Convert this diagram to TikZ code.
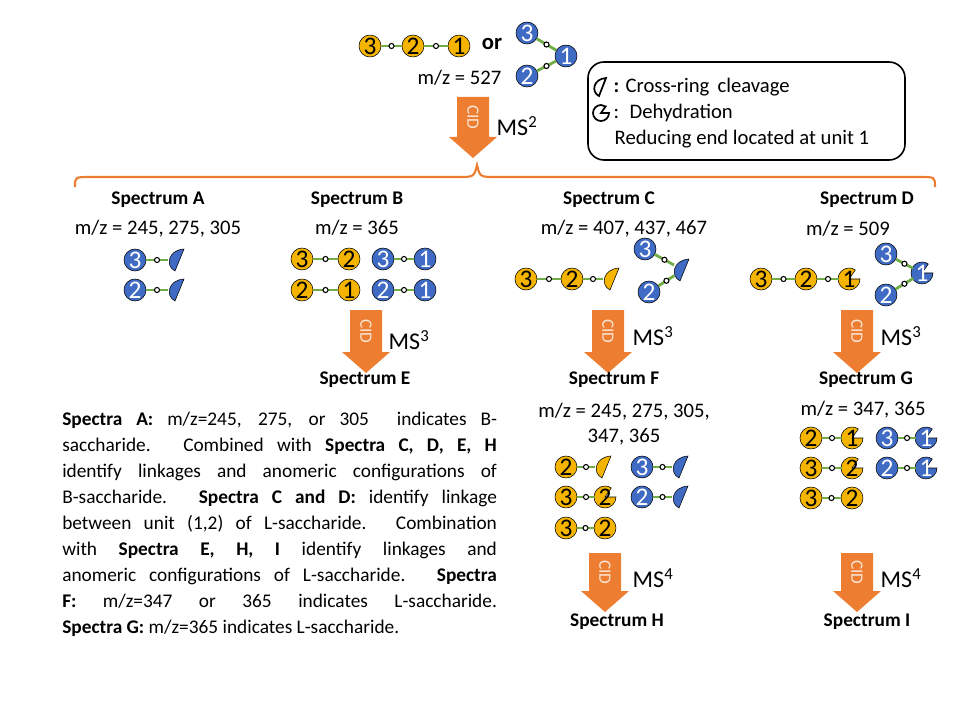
\documentclass[tikz,border=0pt]{standalone}
\usepackage{fontspec}
\setmainfont{Carlito}
\begin{document}
\begin{tikzpicture}[x=0.75pt,y=-0.75pt,
 yu/.style={circle,draw=black,thin,fill=yc,inner sep=0pt,minimum size=16.5pt,font=\fontsize{19}{19}\selectfont},
 bu/.style={circle,draw=black,thin,fill=bc,text=white,inner sep=0pt,minimum size=16.5pt,font=\fontsize{19}{19}\selectfont},
 ghost/.style={circle,inner sep=0pt,minimum size=15pt},
 link/.style={draw=lg,line width=2.1pt},
 dot/.style={circle,draw=black,fill=white,inner sep=0pt,minimum size=3.8pt,line width=0.8pt},
 ttl/.style={font=\fontsize{14.5}{16}\selectfont\bfseries},
 mz/.style={font=\fontsize{15.5}{17}\selectfont},
 ms/.style={font=\fontsize{18}{20}\selectfont,anchor=west}]
\definecolor{yc}{HTML}{F4B400}
\definecolor{bc}{HTML}{3F6BC4}
\definecolor{lg}{HTML}{70AD47}
\definecolor{oc}{HTML}{ED7D31}
\useasboundingbox (0,0) rectangle (960,720);
\newcommand\Y[3]{\node[yu] (#1) at (#2) {#3};}
\newcommand\B[3]{\node[bu] (#1) at (#2) {#3};}
\newcommand\HM[3]{\node[ghost] (#1) at (#2) {};
 \begin{scope}[shift={(#2)}]\filldraw[fill=#3,draw=black,thin] (6,-11) .. controls (-10,-10) and (-13,6) .. (-3,11) -- cycle;\end{scope}}
\newcommand\PMl[5]{\node[ghost] (#1) at (#2) {};
 \begin{scope}[shift={(#2)}]\filldraw[fill=#3,draw=black,thin] (0,0) -- (0:11) arc[start angle=0,end angle=305,radius=11] -- cycle;\end{scope}
 \node[ghost,text=#4,font=\fontsize{19}{19}\selectfont] at (#2) {#5};}
\newcommand\PM[4]{\PMl{#1}{#2}{#3}{#4}{1}}
\newcommand\lk[2]{\draw[link] (#1) -- (#2) node[dot,midway]{};}
\newcommand\cid[4]{% name, x, ytop, ybottom
 \fill[oc] (#2-16,#3) -- (#2+16,#3) -- (#2+16,#4-21) -- (#2+24,#4-21) -- (#2,#4) -- (#2-24,#4-21) -- (#2-16,#4-21) -- cycle;
 \node[coordinate] (#1) at (#2,#3) {};
 \node[text=white!80!oc,rotate=-90,font=\fontsize{13}{13}\selectfont] at (#2,#3/2+#4/2-10) {CID};}
% top
\Y{t3}{370,46}{3}\Y{t2}{413,46}{2}\Y{t1}{459,46}{1}
\lk{t3}{t2}\lk{t2}{t1}
\node[font=\fontsize{17}{18}\selectfont\bfseries] (or) at (492,44) {or};
\B{u3}{527,33}{3}\B{u1}{566,56}{1}\B{u2}{527,76}{2}
\lk{u3}{u1}\lk{u2}{u1}
\node[mz,anchor=east] (mz0) at (506,78) {m/z = 527};
\cid{a1}{473}{97}{158}
\node[ms] at (492,126) {MS\textsuperscript{2}};
% legend
\draw[rounded corners=12,line width=1.2] (588,62) rectangle (905,160);
\begin{scope}[shift={(601,87)}]\draw[line width=1.3] (5,-9) .. controls (-8,-8) and (-10,5) .. (-2,9) -- cycle;\end{scope}
\begin{scope}[shift={(601,113)}]\draw[line width=1.3] (0,0) -- (0:8) arc[start angle=0,end angle=305,radius=8] -- cycle;\end{scope}
\node[mz,anchor=west] (l1) at (609,87) {\textbf{:} Cross-ring\, cleavage};
\node[mz,anchor=west] (l2) at (609,113) {:\enspace Dehydration};
\node[mz,anchor=west] (l3) at (610,139) {Reducing end located at unit 1};
% brace
\draw[oc,line width=1.6] (75,187) .. controls (75,177) .. (90,177) -- (458,177) .. controls (474,177) .. (477,165) .. controls (480,177) .. (496,177) -- (920,177) .. controls (935,177) .. (935,187);
% Spectrum A
\node[ttl] (sa) at (158,200) {Spectrum A};
\node[mz] (mza) at (158,229) {m/z = 245, 275, 305};
\B{a3}{135,260}{3}\HM{ah1}{178,260}{bc}\lk{a3}{ah1}
\B{a2}{135,290}{2}\HM{ah2}{178,290}{bc}\lk{a2}{ah2}
% Spectrum B
\node[ttl] (sb) at (357,200) {Spectrum B};
\node[mz] (mzb) at (357,228) {m/z = 365};
\Y{b13}{302,259}{3}\Y{b12}{349,259}{2}\lk{b13}{b12}
\B{b14}{383,259}{3}\B{b15}{425,259}{1}\lk{b14}{b15}
\Y{b22}{302,290}{2}\Y{b21}{349,290}{1}\lk{b22}{b21}
\B{b24}{383,290}{2}\B{b25}{425,290}{1}\lk{b24}{b25}
\cid{a2}{366}{310}{373}
\node[ms] at (384,340) {MS\textsuperscript{3}};
\node[ttl] (se) at (365,380) {Spectrum E};
% Spectrum C
\node[ttl] (sc) at (609,200) {Spectrum C};
\node[mz] (mzc) at (624,229) {m/z = 407, 437, 467};
\Y{c3}{526,279}{3}\Y{c2}{572,279}{2}\HM{ch}{613,279}{yc}\lk{c3}{c2}\lk{c2}{ch}
\B{cb3}{645,249}{3}\B{cb2}{649,292}{2}\HM{cbh}{683,270}{bc}\lk{cb3}{cbh}\lk{cb2}{cbh}
\cid{a3}{608}{310}{373}
\node[ms] at (628,336) {MS\textsuperscript{3}};
\node[ttl] (sf) at (614,380) {Spectrum F};
\node[mz,align=center] (mzf) at (624,424) {m/z = 245, 275, 305,\\[2pt]347, 365};
\Y{f13}{566,467}{2}\HM{f1h}{605,467}{yc}\lk{f13}{f1h}
\B{f14}{642,467}{3}\HM{f1bh}{682,467}{bc}\lk{f14}{f1bh}
\Y{f23}{566,497}{3}\PMl{f2p}{605,497}{yc}{black}{2}\lk{f23}{f2p}
\B{f24}{642,497}{2}\HM{f2bh}{682,497}{bc}\lk{f24}{f2bh}
\Y{f33}{566,528}{3}\Y{f32}{605,528}{2}\lk{f33}{f32}
\cid{a4}{605}{553}{612}
\node[ms] at (628,578) {MS\textsuperscript{4}};
\node[ttl] (sh) at (617,622) {Spectrum H};
% Spectrum D
\node[ttl] (sd) at (867,200) {Spectrum D};
\node[mz] (mzd) at (848,229) {m/z = 509};
\Y{d3}{761,279}{3}\Y{d2}{806,279}{2}\PM{d1}{849,279}{yc}{black}\lk{d3}{d2}\lk{d2}{d1}
\B{db3}{886,254}{3}\B{db2}{886,295}{2}\PM{db1}{922,273}{bc}{white}\lk{db3}{db1}\lk{db2}{db1}
\cid{a5}{857}{310}{373}
\node[ms] at (876,336) {MS\textsuperscript{3}};
\node[ttl] (sg) at (866,380) {Spectrum G};
\node[mz] (mzg) at (863,410) {m/z = 347, 365};
\Y{g12}{811,438}{2}\PM{g11}{852,438}{yc}{black}\lk{g12}{g11}
\B{g13}{887,438}{3}\PM{g14}{926,438}{bc}{white}\lk{g13}{g14}
\Y{g23}{811,468}{3}\PMl{g22}{852,468}{yc}{black}{2}\lk{g23}{g22}
\B{g24}{887,468}{2}\PM{g25}{926,468}{bc}{white}\lk{g24}{g25}
\Y{g33}{811,498}{3}\Y{g32}{852,498}{2}\lk{g33}{g32}
\cid{a6}{857}{553}{612}
\node[ms] at (876,578) {MS\textsuperscript{4}};
\node[ttl] (si) at (867,622) {Spectrum I};
% paragraph
\node[anchor=north west,text width=326pt,align=justify,inner sep=0pt,font=\fontsize{14.5}{19.5}\selectfont] (par) at (62,412) {\textbf{Spectra A:} m/z=245, 275, or 305\ \ indicates B-\linebreak saccharide. Combined with \textbf{Spectra C, D, E, H}\linebreak identify linkages and anomeric configurations of\linebreak B-saccharide. \textbf{Spectra C and D:} identify linkage\linebreak between unit (1,2) of L-saccharide. Combination\linebreak with \textbf{Spectra E, H, I} identify linkages and\linebreak anomeric configurations of L-saccharide. \textbf{Spectra}\linebreak \textbf{F:} m/z=347 or 365 indicates L-saccharide.\linebreak \textbf{Spectra G:} m/z=365 indicates L-saccharide.};
\end{tikzpicture}
\end{document}
